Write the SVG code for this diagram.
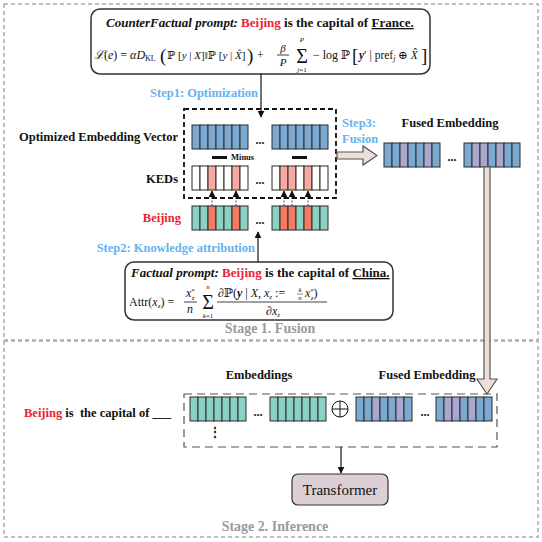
<svg xmlns="http://www.w3.org/2000/svg" width="542" height="542" viewBox="0 0 542 542">
<defs>
<style>
.t{font-family:"Liberation Serif","DejaVu Serif",serif;font-weight:bold;font-size:12.5px;fill:#111}
.step{font-family:"Liberation Serif",serif;font-weight:bold;font-size:12.5px;fill:#66b2f0}
.stage{font-family:"Liberation Serif",serif;font-weight:bold;font-size:14px;fill:#9a9a9a}
.red{fill:#ee2233}
.m{font-family:"Liberation Serif","DejaVu Serif",serif;fill:#111}
.i{font-style:italic}
.c{stroke:#2a2a2a;stroke-width:1}
.bl{fill:#7ba9d1}
.pu{fill:#aaa6d0}
.te{fill:#8dd0c5}
.rd{fill:#f47a64}
.pk{fill:#f6aaa2}
.wh{fill:#ffffff}
.dots{font-family:"Liberation Serif",serif;font-weight:bold;font-size:12px;fill:#111}
</style>
<marker id="ah" viewBox="0 0 10 10" refX="9" refY="5" markerWidth="7" markerHeight="7" orient="auto-start-reverse" markerUnits="userSpaceOnUse">
<path d="M0,0 L10,5 L0,10 Z" fill="#111"/>
</marker>
</defs>

<!-- stage frames -->
<g id="stage1">
<rect x="4" y="4" width="534" height="336" fill="none" stroke="#aaaaaa" stroke-width="1.5" stroke-dasharray="4,3"/>
<text class="stage" x="270" y="333" text-anchor="middle">Stage 1. Fusion</text>
</g>
<g id="stage2">
<rect x="4" y="341" width="534" height="196" fill="none" stroke="#aaaaaa" stroke-width="1.5" stroke-dasharray="4,3"/>
<text class="stage" x="275" y="531" text-anchor="middle">Stage 2. Inference</text>
</g>

<!-- counterfactual box -->
<g id="counterfactual">
<rect x="91" y="9" width="339" height="65" rx="9" fill="#fff" stroke="#333" stroke-width="1.5"/>
<text x="106" y="27" class="t" style="font-size:13px"><tspan font-style="italic">CounterFactual prompt:</tspan> <tspan class="red">Beijing</tspan> is the capital of <tspan text-decoration="underline">France.</tspan></text>
<text class="m" x="94" y="59" style="font-size:12px"><tspan class="i">ℒ</tspan>(<tspan class="i">e</tspan>) = <tspan class="i">αD</tspan><tspan style="font-size:8px" dy="2">KL</tspan></text>
<text class="m" x="160" y="62" style="font-size:19px">(</text>
<text class="m" x="167" y="59" style="font-size:11px">ℙ [<tspan class="i">y</tspan> | <tspan class="i">X</tspan>]‖ℙ [<tspan class="i">y</tspan> | <tspan class="i">X̂</tspan>]</text>
<text class="m" x="247" y="62" style="font-size:19px">)</text>
<text class="m" x="257" y="59" style="font-size:12px">+</text>
<text class="m i" x="283" y="52" text-anchor="middle" style="font-size:11px">β</text>
<line x1="277" y1="55" x2="289" y2="55" stroke="#111" stroke-width="0.8"/>
<text class="m i" x="283" y="66" text-anchor="middle" style="font-size:11px">P</text>
<text class="m i" x="302" y="42" text-anchor="middle" style="font-size:7px">P</text>
<text class="m" x="302" y="63" text-anchor="middle" style="font-size:20px">Σ</text>
<text class="m" x="302" y="72" text-anchor="middle" style="font-size:7px"><tspan class="i">j</tspan>=1</text>
<text class="m" x="313" y="59" style="font-size:12px">− log ℙ</text>
<text class="m" x="352" y="62" style="font-size:19px">[</text>
<text class="m" x="359" y="59" style="font-size:11.5px"><tspan class="i" font-weight="bold">y</tspan>′ | pref<tspan style="font-size:8px" dy="2" class="i">j</tspan><tspan dy="-2"> ⊕ </tspan><tspan class="i">X̂</tspan></text>
<text class="m" x="421" y="62" style="font-size:19px">]</text>
</g>

<!-- factual box -->
<g id="factual">
<rect x="125" y="262" width="268" height="58" rx="9" fill="#fff" stroke="#333" stroke-width="1.5"/>
<text x="131" y="277" class="t" style="font-size:13px"><tspan font-style="italic">Factual prompt:</tspan> <tspan class="red">Beijing</tspan> is the capital of <tspan text-decoration="underline">China.</tspan></text>
<text class="m" x="129" y="306" style="font-size:12px">Attr(<tspan class="i">x</tspan><tspan style="font-size:7px" dy="2" class="i">z</tspan><tspan dy="-2">) =</tspan></text>
<text class="m" x="186" y="297" style="font-size:12px"><tspan class="i">x</tspan><tspan style="font-size:7px" dy="-4">*</tspan><tspan style="font-size:7px" dx="-3" dy="7" class="i">z</tspan></text>
<line x1="184" y1="302" x2="197" y2="302" stroke="#111" stroke-width="0.8"/>
<text class="m i" x="190" y="313" text-anchor="middle" style="font-size:12px">n</text>
<text class="m i" x="208" y="289" text-anchor="middle" style="font-size:7px">n</text>
<text class="m" x="208" y="309" text-anchor="middle" style="font-size:20px">Σ</text>
<text class="m" x="208" y="318" text-anchor="middle" style="font-size:7px"><tspan class="i">k</tspan>=1</text>
<text class="m" x="218" y="297" style="font-size:12px">∂ℙ(<tspan class="i" font-weight="bold">y</tspan> | <tspan class="i">X</tspan>, <tspan class="i">x</tspan><tspan style="font-size:7px" dy="2" class="i">z</tspan><tspan dy="-2"> := </tspan></text>
<text class="m i" x="300" y="292" text-anchor="middle" style="font-size:7px">k</text>
<line x1="297" y1="294" x2="303" y2="294" stroke="#111" stroke-width="0.5"/>
<text class="m i" x="300" y="300" text-anchor="middle" style="font-size:7px">n</text>
<text class="m" x="305" y="297" style="font-size:12px"><tspan class="i">x</tspan><tspan style="font-size:7px" dy="-4">*</tspan><tspan style="font-size:7px" dx="-3" dy="7" class="i">z</tspan><tspan dy="-3">)</tspan></text>
<line x1="217" y1="302" x2="327" y2="302" stroke="#111" stroke-width="0.8"/>
<text class="m" x="266" y="315" style="font-size:12px">∂<tspan class="i">x</tspan><tspan style="font-size:7px" dy="2" class="i">z</tspan></text>
</g>

<!-- labels -->
<g id="labels">
<text class="step" x="258" y="97" text-anchor="end">Step1: Optimization</text>
<text class="step" x="255" y="252" text-anchor="end">Step2: Knowledge attribution</text>
<text class="step" x="342" y="127">Step3:</text>
<text class="step" x="342" y="143">Fusion</text>
<text class="t" x="178" y="141" text-anchor="end">Optimized Embedding Vector</text>
<text class="t" x="178" y="183" text-anchor="end">KEDs</text>
<text class="t red" x="181" y="222" text-anchor="end">Beijing</text>
<text class="t" x="450" y="127" text-anchor="middle">Fused Embedding</text>
<text class="dots" x="260" y="144" text-anchor="middle">...</text>
<text class="dots" x="260" y="184" text-anchor="middle">...</text>
<text class="dots" x="260" y="224" text-anchor="middle">...</text>
<text class="dots" x="452" y="161" text-anchor="middle">...</text>
</g>

<!-- optimization dashed box -->
<g id="optbox">
<rect x="184" y="109" width="152" height="89" fill="none" stroke="#111" stroke-width="1.8" stroke-dasharray="5,3"/>
<rect x="212" y="156" width="15" height="3" fill="#111"/>
<text x="231" y="160" class="t" style="font-size:8.5px">Minus</text>
<rect x="292" y="156" width="15" height="3" fill="#111"/>
</g>

<!-- optimized embedding vector -->
<g id="optvec" class="c">
<rect class="bl" x="192" y="125" width="8" height="24"/><rect class="bl" x="200" y="125" width="8" height="24"/><rect class="bl" x="208" y="125" width="8" height="24"/><rect class="bl" x="216" y="125" width="8" height="24"/><rect class="bl" x="224" y="125" width="8" height="24"/><rect class="bl" x="232" y="125" width="8" height="24"/><rect class="bl" x="240" y="125" width="8" height="24"/>
<rect class="bl" x="272" y="125" width="8" height="24"/><rect class="bl" x="280" y="125" width="8" height="24"/><rect class="bl" x="288" y="125" width="8" height="24"/><rect class="bl" x="296" y="125" width="8" height="24"/><rect class="bl" x="304" y="125" width="8" height="24"/><rect class="bl" x="312" y="125" width="8" height="24"/><rect class="bl" x="320" y="125" width="8" height="24"/>
</g>

<!-- KEDs -->
<g id="keds" class="c">
<rect class="wh" x="192" y="166" width="8" height="24"/><rect class="wh" x="200" y="166" width="8" height="24"/><rect class="pk" x="208" y="166" width="8" height="24"/><rect class="wh" x="216" y="166" width="8" height="24"/><rect class="wh" x="224" y="166" width="8" height="24"/><rect class="pk" x="232" y="166" width="8" height="24"/><rect class="wh" x="240" y="166" width="8" height="24"/>
<rect class="wh" x="272" y="166" width="8" height="24"/><rect class="pk" x="280" y="166" width="8" height="24"/><rect class="pk" x="288" y="166" width="8" height="24"/><rect class="wh" x="296" y="166" width="8" height="24"/><rect class="pk" x="304" y="166" width="8" height="24"/><rect class="wh" x="312" y="166" width="8" height="24"/><rect class="wh" x="320" y="166" width="8" height="24"/>
</g>

<!-- Beijing embedding -->
<g id="beijing" class="c">
<rect class="te" x="192" y="206" width="8" height="24"/><rect class="te" x="200" y="206" width="8" height="24"/><rect class="rd" x="208" y="206" width="8" height="24"/><rect class="te" x="216" y="206" width="8" height="24"/><rect class="te" x="224" y="206" width="8" height="24"/><rect class="rd" x="232" y="206" width="8" height="24"/><rect class="te" x="240" y="206" width="8" height="24"/>
<rect class="te" x="272" y="206" width="8" height="24"/><rect class="rd" x="280" y="206" width="8" height="24"/><rect class="rd" x="288" y="206" width="8" height="24"/><rect class="te" x="296" y="206" width="8" height="24"/><rect class="rd" x="304" y="206" width="8" height="24"/><rect class="te" x="312" y="206" width="8" height="24"/><rect class="te" x="320" y="206" width="8" height="24"/>
</g>

<!-- fused embedding (stage 1) -->
<g id="fused1" class="c">
<rect class="bl" x="384" y="143" width="8" height="24"/><rect class="bl" x="392" y="143" width="8" height="24"/><rect class="pu" x="400" y="143" width="8" height="24"/><rect class="bl" x="408" y="143" width="8" height="24"/><rect class="bl" x="416" y="143" width="8" height="24"/><rect class="pu" x="424" y="143" width="8" height="24"/><rect class="bl" x="432" y="143" width="8" height="24"/>
<rect class="bl" x="464" y="143" width="8" height="24"/><rect class="pu" x="472" y="143" width="8" height="24"/><rect class="pu" x="480" y="143" width="8" height="24"/><rect class="bl" x="488" y="143" width="8" height="24"/><rect class="pu" x="496" y="143" width="8" height="24"/><rect class="bl" x="504" y="143" width="8" height="24"/><rect class="bl" x="512" y="143" width="8" height="24"/>
</g>

<!-- stage 2 -->
<g id="inputrow">
<text class="t" x="24" y="417" xml:space="preserve"><tspan class="red">Beijing</tspan> is  the capital of ___</text>
<rect x="184" y="394" width="313" height="53" fill="none" stroke="#555" stroke-width="1.2" stroke-dasharray="8,5"/>
<text class="t" x="259" y="379" text-anchor="middle">Embeddings</text>
<text class="t" x="427" y="379" text-anchor="middle">Fused Embedding</text>
<text class="dots" x="258" y="416" text-anchor="middle">...</text>
<text class="dots" x="425" y="416" text-anchor="middle">...</text>
<text class="dots" x="215" y="436" text-anchor="middle">⋮</text>
<circle cx="340" cy="409" r="8" fill="none" stroke="#111" stroke-width="1"/>
<line x1="332" y1="409" x2="348" y2="409" stroke="#111" stroke-width="1"/>
<line x1="340" y1="401" x2="340" y2="417" stroke="#111" stroke-width="1"/>
</g>
<g id="emb2" class="c">
<rect class="te" x="190" y="397" width="8" height="24"/><rect class="te" x="198" y="397" width="8" height="24"/><rect class="te" x="206" y="397" width="8" height="24"/><rect class="te" x="214" y="397" width="8" height="24"/><rect class="te" x="222" y="397" width="8" height="24"/><rect class="te" x="230" y="397" width="8" height="24"/><rect class="te" x="238" y="397" width="8" height="24"/>
<rect class="te" x="270" y="397" width="8" height="24"/><rect class="te" x="278" y="397" width="8" height="24"/><rect class="te" x="286" y="397" width="8" height="24"/><rect class="te" x="294" y="397" width="8" height="24"/><rect class="te" x="302" y="397" width="8" height="24"/><rect class="te" x="310" y="397" width="8" height="24"/><rect class="te" x="318" y="397" width="8" height="24"/>
</g>
<g id="fused2" class="c">
<rect class="bl" x="356" y="397" width="8" height="24"/><rect class="bl" x="364" y="397" width="8" height="24"/><rect class="pu" x="372" y="397" width="8" height="24"/><rect class="bl" x="380" y="397" width="8" height="24"/><rect class="bl" x="388" y="397" width="8" height="24"/><rect class="pu" x="396" y="397" width="8" height="24"/><rect class="bl" x="404" y="397" width="8" height="24"/>
<rect class="bl" x="436" y="397" width="8" height="24"/><rect class="pu" x="444" y="397" width="8" height="24"/><rect class="pu" x="452" y="397" width="8" height="24"/><rect class="bl" x="460" y="397" width="8" height="24"/><rect class="pu" x="468" y="397" width="8" height="24"/><rect class="bl" x="476" y="397" width="8" height="24"/><rect class="bl" x="484" y="397" width="8" height="24"/>
</g>

<g id="transformer">
<rect x="292" y="474" width="96" height="31" rx="6" fill="#dccfd6" stroke="#333" stroke-width="1.2"/>
<text x="340" y="495" text-anchor="middle" style="font-family:'Liberation Serif',serif;font-size:15px;fill:#111">Transformer</text>
</g>

<!-- connectors -->
<g id="connectors" fill="none" stroke="#111">
<line x1="261" y1="74" x2="261" y2="117" stroke-width="1.2" marker-end="url(#ah)"/>
<line x1="258" y1="262" x2="258" y2="232" stroke-width="1.2" marker-end="url(#ah)"/>
<line x1="212" y1="206" x2="212" y2="191" stroke-width="0.8" stroke-dasharray="2,1.5" marker-end="url(#ah)"/>
<line x1="236" y1="206" x2="236" y2="191" stroke-width="0.8" stroke-dasharray="2,1.5" marker-end="url(#ah)"/>
<line x1="284" y1="206" x2="284" y2="191" stroke-width="0.8" stroke-dasharray="2,1.5" marker-end="url(#ah)"/>
<line x1="292" y1="206" x2="292" y2="191" stroke-width="0.8" stroke-dasharray="2,1.5" marker-end="url(#ah)"/>
<line x1="308" y1="206" x2="308" y2="191" stroke-width="0.8" stroke-dasharray="2,1.5" marker-end="url(#ah)"/>
<line x1="341" y1="447" x2="341" y2="473" stroke-width="1.2" marker-end="url(#ah)"/>
<path d="M337,152 L363,152 L363,146 L377,155.5 L363,165 L363,159 L337,159 Z" fill="#ecdfd8" stroke="#555" stroke-width="1.2"/>
<path d="M484,167 L490,167 L490,379 L497,379 L487,394 L477,379 L484,379 Z" fill="#ecdfd8" stroke="#555" stroke-width="1.2"/>
</g>
</svg>
